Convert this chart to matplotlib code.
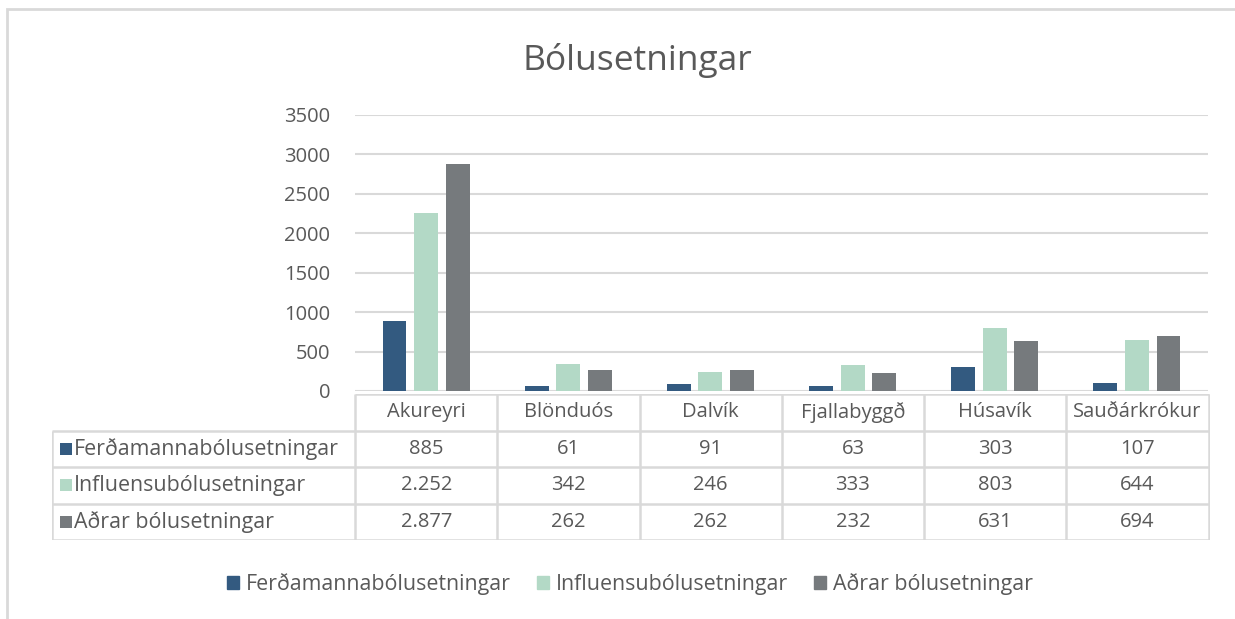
import matplotlib
matplotlib.use("Agg")
import matplotlib.pyplot as plt
from matplotlib.patches import Rectangle
import numpy as np

categories = ["Akureyri", "Blönduós", "Dalvík", "Fjallabyggð", "Húsavík", "Sauðárkrókur"]
series_names = ["Ferðamannabólusetningar", "Influensubólusetningar", "Aðrar bólusetningar"]
ferdamanna = [885, 61, 91, 63, 303, 107]
influensu = [2252, 342, 246, 333, 803, 644]
adrar = [2877, 262, 262, 232, 631, 694]
yticks = [0, 500, 1000, 1500, 2000, 2500, 3000, 3500]

colors = ["#335A80", "#B3D9C6", "#767A7D"]
txt = "#595959"
grid = "#D9D9D9"
fs = 14.5
fs_names = 15.4

plt.rcParams['font.family'] = ['Open Sans', 'DejaVu Sans']

W, H = 1235, 619
fig = plt.figure(figsize=(W / 100, H / 100), dpi=100)

# chart frame (runs off the right/bottom edge like the screenshot)
fig.patches.append(Rectangle((7 / W, -0.1), 1.2, 1 - 9 / H + 0.1, transform=fig.transFigure,
                             fill=False, ec="#D9D9D9", lw=2))

fig.text(637 / W, 1 - 60 / H, "Bólusetningar", ha="center", va="center", fontsize=25.5, color=txt)

# main bar axes
ax = fig.add_axes([355 / W, 1 - 391 / H, 853 / W, 276 / H])
x = np.arange(len(categories))
all_series = [ferdamanna, influensu, adrar]
offsets = [-0.222, 0, 0.222]
for vals, off, c in zip(all_series, offsets, colors):
    ax.bar(x + off, vals, width=0.168, color=c, zorder=3)
ax.set_xlim(-0.5, len(categories) - 0.5)
ax.set_ylim(0, 3500)
ax.set_yticks(yticks)
ax.set_yticklabels([str(t) for t in yticks])
ax.yaxis.grid(True, color=grid, lw=1.5)
ax.set_axisbelow(True)
ax.tick_params(axis="y", length=0, pad=18, labelsize=fs, labelcolor=txt)
ax.tick_params(axis="x", length=0, labelbottom=False)
for s in ax.spines.values():
    s.set_visible(False)

# data table below
tleft, tright, ttop, tbot = 52, 1210, 394, 540
lab_w = (355 - tleft) / (1208 - 355) * len(categories)
tax = fig.add_axes([tleft / W, 1 - tbot / H, (tright - tleft) / W, (tbot - ttop) / H])
x0 = -0.5 - lab_w
x1 = len(categories) - 0.5
tax.set_xlim(x0, x1 + 0.01)
tax.set_ylim(4, 0)
tax.axis("off")
lkw = dict(color=grid, lw=1.8, solid_capstyle="butt")
tax.plot([-0.5, x1], [0, 0], **lkw)
for r in range(1, 5):
    tax.plot([x0, x1], [r, r], **lkw)
tax.plot([x0, x0], [1, 4], **lkw)
for cx in np.arange(-0.5, x1 + 0.5):
    tax.plot([cx, cx], [0, 4], **lkw)

for i, cat in enumerate(categories):
    tax.text(i, 0.5, cat, ha="center", va="center", fontsize=fs, color=txt)


def fmt(v):
    return f"{v:,}".replace(",", ".")


px = (len(categories) + lab_w) / (tright - tleft)
for r, (name, vals, c) in enumerate(zip(series_names, all_series, colors)):
    yy = r + 1.5
    tax.add_patch(Rectangle((x0 + 8 * px, yy - 0.17), 12 * px, 0.34, color=c, lw=0))
    tax.text(x0 + 22 * px, yy, name, ha="left", va="center", fontsize=fs_names, color=txt)
    for i, v in enumerate(vals):
        tax.text(i, yy, fmt(v), ha="center", va="center", fontsize=fs, color=txt)

handles = [Rectangle((0, 0), 1, 1, color=c) for c in colors]
fig.legend(handles, series_names, loc="center", bbox_to_anchor=(630 / W, 1 - 584 / H), ncol=3,
           frameon=False, handlelength=0.55, handleheight=0.55, handletextpad=0.35,
           columnspacing=1.2, fontsize=fs_names, labelcolor=txt)

fig.savefig("out.png", dpi=100)
